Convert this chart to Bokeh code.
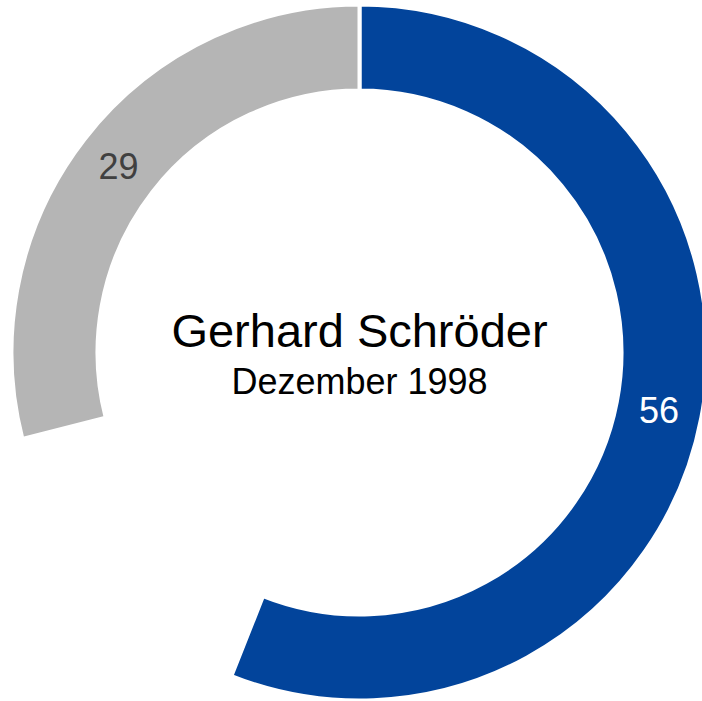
import math
from bokeh.plotting import figure
from bokeh.models import Range1d, ColumnDataSource
from bokeh.core.properties import value
from bokeh.embed import file_html
from bokeh.resources import INLINE

# data
categories = ["Zustimmung", "Rest", "Ablehnung"]
values = [56, 15, 29]
colors = ["#02449b", None, "#b5b5b5"]
label_colors = ["#ffffff", None, "#404040"]
title_line1 = "Gerhard Schröder"
title_line2 = "Dezember 1998"

total = sum(values)
outer_r = 348
inner_r = 262
mid_r = (346 + 264) / 2

starts, ends, xs, ys, cols, labs, lcols = [], [], [], [], [], [], []
acc = 0.0
for v, c, lc in zip(values, colors, label_colors):
    a0 = acc / total * 2 * math.pi
    a1 = (acc + v) / total * 2 * math.pi
    acc += v
    if c is None:
        continue
    # bokeh angles: counterclockwise from +x; chart goes clockwise from top
    starts.append(math.pi / 2 - a0)
    ends.append(math.pi / 2 - a1)
    am = (a0 + a1) / 2
    xs.append(mid_r * math.sin(am))
    ys.append(mid_r * math.cos(am))
    cols.append(c)
    labs.append(str(v))
    lcols.append(lc)

src = ColumnDataSource(dict(start=starts, end=ends, x=xs, y=ys, color=cols,
                            label=labs, lcolor=lcols))

p = figure(width=702, height=701, output_backend="svg", toolbar_location=None,
           x_range=Range1d(-359, 343), y_range=Range1d(-349, 352),
           min_border=0, min_border_left=0, min_border_right=0,
           min_border_top=0, min_border_bottom=0)
p.axis.visible = False
p.grid.visible = False
p.outline_line_color = None
p.background_fill_color = "white"
p.border_fill_color = "white"

p.annular_wedge(x=0, y=0, inner_radius=inner_r, outer_radius=outer_r,
                start_angle="start", end_angle="end", direction="clock",
                fill_color="color", line_color="white", line_width=4,
                source=src)

p.text(x="x", y="y", text="label", text_color="lcolor", source=src,
       text_font=value("Liberation Sans"), text_font_size="36px",
       text_align="center", text_baseline="middle")

p.text(x=[0], y=[22], text=[title_line1], text_font=value("Liberation Sans"),
       text_font_size="47px", text_color="#000000", text_align="center",
       text_baseline="alphabetic")
p.text(x=[0], y=[-29], text=[title_line2], text_font=value("Liberation Sans"),
       text_font_size="36px", text_color="#000000", text_align="center",
       text_baseline="alphabetic")

open("out.html", "w").write(file_html(p, INLINE))
